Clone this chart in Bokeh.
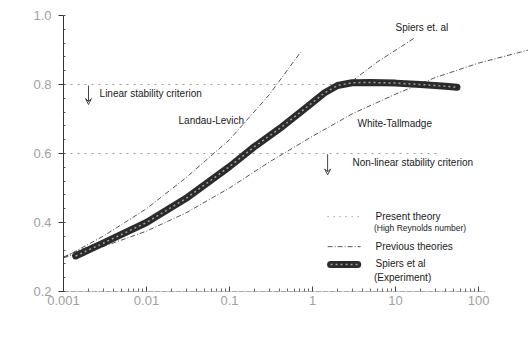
from bokeh.plotting import figure
from bokeh.models import (Range1d, FixedTicker, SingleIntervalTicker,
                          CustomJSTickFormatter, Label, Arrow, VeeHead)
from bokeh.embed import file_html
from bokeh.resources import INLINE

# ---- data: dimensionless film thickness T0 against capillary number Ca ----
landau_ca = [0.001, 0.003, 0.01, 0.03, 0.1, 0.3, 0.72]
landau_t = [0.298, 0.36, 0.44, 0.53, 0.64, 0.77, 0.894]

white_ca = [0.001, 0.003, 0.01, 0.03, 0.1, 0.3, 1, 3, 10, 30, 100, 400]
white_t = [0.298, 0.33, 0.375, 0.428, 0.50, 0.575, 0.65, 0.715, 0.772, 0.82, 0.862, 0.9]

spiers_theory_ca = [0.001, 0.01, 0.1, 0.4, 1, 2, 3, 6, 17]
spiers_theory_t = [0.30, 0.40, 0.562, 0.672, 0.748, 0.792, 0.81, 0.865, 0.935]

present_ca = [0.001, 0.01, 0.1, 0.4, 1, 2, 3, 10, 55]
present_t = [0.30, 0.40, 0.562, 0.672, 0.748, 0.797, 0.805, 0.805, 0.79]

exp_ca = [0.0014, 0.003, 0.01, 0.03, 0.1, 0.2, 0.4, 0.7, 1.0, 1.4, 2.0, 3.0, 5, 10, 20, 40, 55]
exp_t = [0.303, 0.34, 0.40, 0.47, 0.562, 0.62, 0.672, 0.718, 0.748, 0.776, 0.797,
         0.805, 0.806, 0.804, 0.800, 0.795, 0.792]

criterion_levels = [0.8, 0.6]
criterion_end = [60, 35]

x_ticks = [0.001, 0.01, 0.1, 1, 10, 100]
x_tick_labels = ["0.001", "0.01", "0.1", "1", "10", "100"]
x_minor = [k * 10.0 ** e for e in range(-3, 2) for k in range(2, 10)]
x_axis_end = 120

FONT = "Liberation Sans"
DASH_PREV = "5 2 1 2"
DASH_PRESENT = "1 3"

p = figure(width=528, height=339, x_axis_type="log",
           x_range=Range1d(0.001, 400), y_range=Range1d(0.2, 1.0),
           output_backend="svg", toolbar_location=None,
           min_border_left=63, min_border_right=0,
           min_border_top=15, min_border_bottom=48)
p.outline_line_color = None
p.grid.visible = False
p.background_fill_color = "white"
p.border_fill_color = "white"

# axes
xa = p.xaxis[0]
xa.ticker = FixedTicker(ticks=x_ticks, minor_ticks=x_minor)
xa.formatter = CustomJSTickFormatter(args=dict(tvals=x_ticks, tlabels=x_tick_labels), code="""
const i = tvals.findIndex(t => Math.abs(Math.log10(t) - Math.log10(tick)) < 1e-6);
return i >= 0 ? tlabels[i] : "";
""")
xa.axis_line_alpha = 0
xa.major_tick_in = 5
xa.major_tick_out = 0
xa.minor_tick_in = 3
xa.minor_tick_out = 0
xa.major_tick_line_color = "#444"
xa.minor_tick_line_color = "#666"
xa.major_label_standoff = 4

ya = p.yaxis[0]
ya.ticker = SingleIntervalTicker(interval=0.2, num_minor_ticks=5)
ya.formatter = CustomJSTickFormatter(code="return tick.toFixed(1);")
ya.axis_line_color = "#333"
ya.major_tick_in = 0
ya.major_tick_out = 5
ya.minor_tick_in = 2
ya.minor_tick_out = 0
ya.major_tick_line_color = "#333"
ya.minor_tick_line_color = "#555"
ya.major_label_standoff = 7

for ax in (xa, ya):
    ax.major_label_text_font = FONT
    ax.major_label_text_font_size = "13px"
    ax.major_label_text_color = "#a0a0a0"

# bottom axis line, ending just past the last decade
p.line([0.001, x_axis_end], [0.2, 0.2], line_color="#555", line_width=1, line_dash="6 1")

# stability criteria
for lvl, end in zip(criterion_levels, criterion_end):
    p.line([0.001, end], [lvl, lvl], line_color="#9a9a9a", line_width=1, line_dash="2 5")

# theory curves
p.line(present_ca, present_t, line_color="#666", line_width=1, line_dash=DASH_PRESENT)
p.line(landau_ca, landau_t, line_color="#555", line_width=1, line_dash=DASH_PREV)
p.line(white_ca, white_t, line_color="#555", line_width=1, line_dash=DASH_PREV)
p.line(spiers_theory_ca, spiers_theory_t, line_color="#555", line_width=1, line_dash=DASH_PREV)

# experimental band (Spiers et al)
p.line(exp_ca, exp_t, line_color="#2b2b2b", line_width=7, line_cap="round", line_join="round")
p.line(exp_ca, exp_t, line_color="white", line_alpha=0.55, line_width=1.5, line_dash="2 3")

# legend samples
p.line([1.52, 3.8], [0.417, 0.417], line_color="#777", line_width=1, line_dash="1 5")
p.line([1.52, 3.8], [0.330, 0.330], line_color="#555", line_width=1, line_dash=DASH_PREV)
p.line([1.65, 3.5], [0.278, 0.278], line_color="#2b2b2b", line_width=7, line_cap="round")
p.line([1.65, 3.5], [0.278, 0.278], line_color="white", line_alpha=0.55, line_width=1.5,
       line_dash="2 3")


def note(x, y, text, size="10px", color="#1a1a1a", align="left"):
    p.add_layout(Label(x=x, y=y, text=text, text_font=FONT, text_font_size=size,
                       text_color=color, text_align=align, text_baseline="middle"))


note(0.00272, 0.774, "Linear stability criterion")
note(0.0243, 0.696, "Landau-Levich")
note(10.0, 0.965, "Spiers et. al")
note(3.48, 0.687, "White-Tallmadge")
note(3.03, 0.574, "Non-linear stability criterion")
note(5.74, 0.417, "Present theory")
note(5.5, 0.383, "(High Reynolds number)", size="8.5px")
note(5.74, 0.330, "Previous theories")
note(5.74, 0.281, "Spiers et al")
note(5.5, 0.241, "(Experiment)")

# axis titles
note(0.000272, 0.693, "T\u2080", size="12px", color="#333", align="center")
note(0.3207, 0.0754, "Ca", size="10px", color="#333", align="center")

# stability arrows
for xs, y0, y1 in [(0.002, 0.797, 0.742), (1.52, 0.598, 0.538)]:
    p.add_layout(Arrow(x_start=xs, y_start=y0, x_end=xs, y_end=y1,
                       line_color="#444", line_width=1,
                       end=VeeHead(size=6, line_color="#444", line_width=1,
                                   fill_color=None)))

open("out.html", "w").write(file_html(p, INLINE))
